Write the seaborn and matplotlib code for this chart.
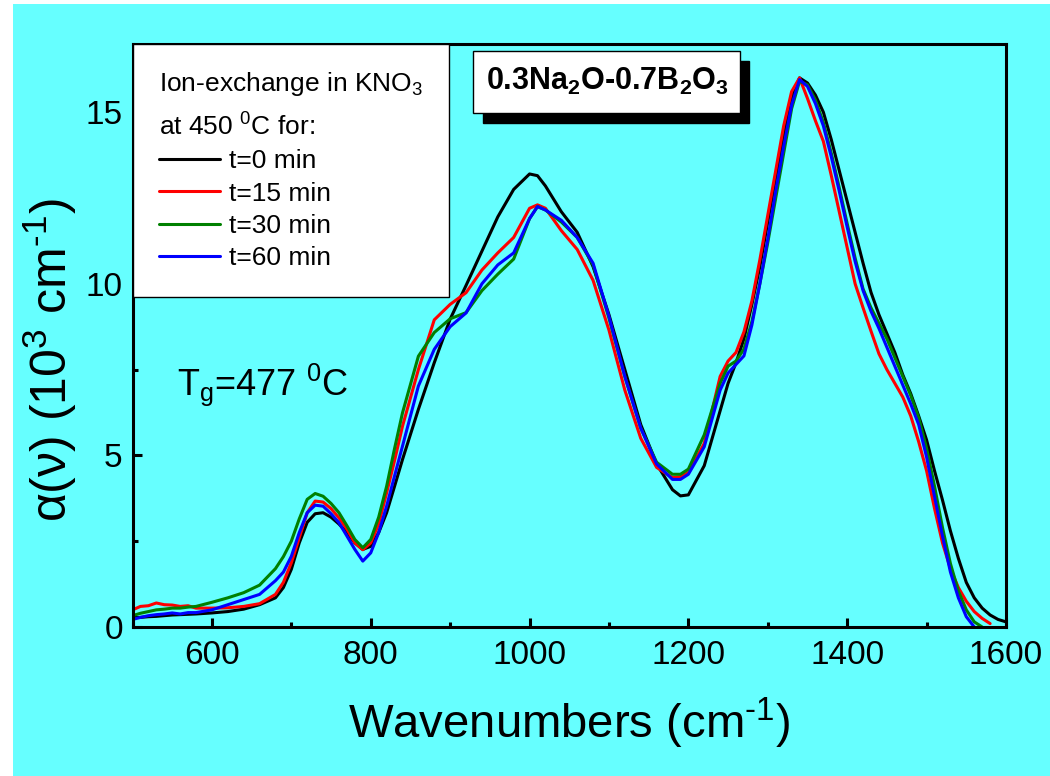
import numpy as np
import pandas as pd
import matplotlib
matplotlib.use('Agg')
import matplotlib.pyplot as plt
from matplotlib.patches import Rectangle
from matplotlib.ticker import MultipleLocator
import seaborn as sns

# --- 1. Datos ---
wavenumber = [500, 510, 520, 530, 540, 550, 560, 570, 580,
              600, 620, 640, 660, 680,
              690, 700, 710, 720, 730, 740, 750, 760, 770, 780, 790, 800, 810, 820, 830, 840,
              860, 880, 900, 920, 940, 960, 980, 1000,
              1010, 1020,
              1040, 1060, 1080, 1100, 1120, 1140, 1160, 1180,
              1190, 1200,
              1220, 1240,
              1250, 1260, 1270, 1280, 1290, 1300, 1310, 1320, 1330, 1340,
              1350, 1360, 1370, 1380, 1390, 1400, 1410, 1420, 1430, 1440,
              1450, 1460, 1470, 1480, 1490, 1500, 1510, 1520, 1530, 1540,
              1550, 1560, 1570, 1580, 1590, 1600]

alpha_t0 = [0.27, 0.28, 0.30, 0.31, 0.33, 0.35, 0.36, 0.37, 0.38,
            0.41, 0.45, 0.52, 0.65, 0.85,
            1.15, 1.68, 2.45, 3.05, 3.30, 3.33, 3.20, 3.00, 2.75, 2.45, 2.26, 2.35, 2.75, 3.33, 4.10, 4.88,
            6.34, 7.70, 8.97, 9.95, 10.95, 11.95, 12.75, 13.20,
            13.15, 12.85,
            12.10, 11.50, 10.50, 9.10, 7.50, 5.90, 4.75, 4.00,
            3.82, 3.85,
            4.70, 6.30,
            7.10, 7.70, 8.40, 9.40, 10.50, 11.80, 13.10, 14.30, 15.40, 16.00,
            15.85, 15.50, 15.00, 14.20, 13.30, 12.40, 11.50, 10.60, 9.75, 9.10,
            8.55, 8.00, 7.35, 6.80, 6.15, 5.45, 4.55, 3.70, 2.80, 2.00,
            1.30, 0.85, 0.55, 0.35, 0.22, 0.15]

alpha_t15 = [0.50, 0.60, 0.62, 0.70, 0.65, 0.64, 0.60, 0.62, 0.55,
             0.55, 0.56, 0.60, 0.68, 0.95,
             1.30, 1.87, 2.60, 3.33, 3.67, 3.64, 3.45, 3.18, 2.85, 2.45, 2.25, 2.45, 3.00, 3.91, 4.85, 5.85,
             7.50, 8.95, 9.40, 9.74, 10.40, 10.90, 11.35, 12.20,
             12.30, 12.20,
             11.55, 11.00, 10.10, 8.65, 6.90, 5.50, 4.65, 4.35,
             4.38, 4.50,
             5.35, 7.30,
             7.75, 8.00, 8.60, 9.50, 10.70, 12.00, 13.30, 14.60, 15.60, 16.00,
             15.40, 14.75, 14.15, 13.15, 12.10, 11.05, 10.00, 9.30, 8.62, 7.96,
             7.50, 7.10, 6.70, 6.15, 5.40, 4.55, 3.45, 2.45, 1.70, 1.15,
             0.75, 0.45, 0.25, 0.10, None, None]

alpha_t30 = [0.33, 0.40, 0.45, 0.50, 0.52, 0.55, 0.55, 0.58, 0.60,
             0.72, 0.85, 1.00, 1.22, 1.70,
             2.05, 2.50, 3.15, 3.72, 3.89, 3.81, 3.60, 3.33, 2.95, 2.55, 2.31, 2.55, 3.20, 4.10, 5.20, 6.24,
             7.89, 8.58, 8.98, 9.16, 9.80, 10.28, 10.72, 11.90,
             12.25, 12.15,
             11.80, 11.35, 10.55, 9.00, 7.30, 5.80, 4.80, 4.45,
             4.45, 4.60,
             5.60, 7.10,
             7.60, 7.75, 8.10, 8.90, 10.00, 11.20, 12.50, 13.80, 15.10, 15.90,
             15.80, 15.35, 14.70, 13.80, 12.80, 11.75, 10.75, 9.85, 9.30, 8.85,
             8.40, 7.85, 7.30, 6.75, 6.10, 5.20, 4.10, 2.90, 1.85, 1.05,
             0.50, 0.15, 0.00, None, None, None]

alpha_t60 = [0.22, 0.28, 0.33, 0.36, 0.38, 0.41, 0.38, 0.42, 0.42,
             0.50, 0.65, 0.80, 0.95, 1.35,
             1.60, 2.06, 2.75, 3.33, 3.55, 3.52, 3.30, 3.04, 2.65, 2.26, 1.92, 2.16, 2.75, 3.52, 4.40, 5.27,
             7.02, 8.09, 8.75, 9.15, 10.00, 10.55, 10.90, 11.90,
             12.25, 12.15,
             11.85, 11.35, 10.60, 9.05, 7.30, 5.80, 4.75, 4.30,
             4.30, 4.45,
             5.25, 6.90,
             7.40, 7.65, 7.90, 8.80, 10.00, 11.30, 12.70, 14.00, 15.20, 15.95,
             15.75, 15.25, 14.60, 13.70, 12.70, 11.65, 10.65, 9.80, 9.20, 8.70,
             8.15, 7.60, 7.05, 6.50, 5.90, 4.95, 3.80, 2.65, 1.60, 0.85,
             0.30, 0.00, None, None, None, None]

series_labels = ['t=0 min', 't=15 min', 't=30 min', 't=60 min']
series_colors = ['black', '#FF0000', '#008000', '#0000FF']
x_ticks = [600, 800, 1000, 1200, 1400, 1600]
y_ticks = [0, 5, 10, 15]

# Tabla larga para seaborn
df = pd.DataFrame({'wavenumber': wavenumber,
                   series_labels[0]: alpha_t0,
                   series_labels[1]: alpha_t15,
                   series_labels[2]: alpha_t30,
                   series_labels[3]: alpha_t60})
df_long = df.melt(id_vars='wavenumber', var_name='tiempo', value_name='alpha')
df_long['alpha'] = pd.to_numeric(df_long['alpha'])
df_long = df_long.dropna()

# --- 2. Estilo ---
sns.set_theme(style='ticks')
plt.rcParams['font.family'] = ['Liberation Sans', 'DejaVu Sans']
plt.rcParams['mathtext.fontset'] = 'custom'
plt.rcParams['mathtext.rm'] = 'Liberation Sans'
plt.rcParams['mathtext.it'] = 'Liberation Sans:italic'
plt.rcParams['mathtext.bf'] = 'Liberation Sans:bold'
for clave in ['text.color', 'axes.labelcolor', 'xtick.color', 'ytick.color',
              'xtick.labelcolor', 'ytick.labelcolor', 'axes.edgecolor']:
    plt.rcParams[clave] = 'black'

cyan = '#66FFFF'

fig = plt.figure(figsize=(10.5, 7.76), dpi=100, facecolor='white')
fig.patches.append(Rectangle((13 / 1050, 0), 1, 1 - 4 / 776, transform=fig.transFigure,
                             facecolor=cyan, edgecolor='none', zorder=-10))
ax = fig.add_axes([0.1262, 0.192, 0.8319, 0.7519])
ax.set_facecolor(cyan)

# --- 3. Curvas ---
sns.lineplot(data=df_long, x='wavenumber', y='alpha', hue='tiempo',
             hue_order=series_labels, palette=dict(zip(series_labels, series_colors)),
             linewidth=2.2, estimator=None, sort=False, legend=False, ax=ax)

ax.set_xlim(500, 1600)
ax.set_ylim(0, 17)
ax.set_xticks(x_ticks)
ax.set_yticks(y_ticks)
ax.xaxis.set_minor_locator(MultipleLocator(100))
ax.yaxis.set_minor_locator(MultipleLocator(2.5))
ax.tick_params(which='both', direction='in', width=2.2, labelsize=24,
               color='black', labelcolor='black')
ax.tick_params(which='major', length=6.5)
ax.tick_params(which='minor', length=3.5)
ax.tick_params(axis='x', pad=9)
ax.tick_params(axis='y', pad=7)
for s in ax.spines.values():
    s.set_linewidth(2.2)
    s.set_color('black')
    s.set_visible(True)

ax.set_xlabel('Wavenumbers (cm$^{\\text{-}1}$)', fontsize=34, va='center', color='black')
ax.xaxis.set_label_coords(0.5, -0.165)
ax.set_ylabel('α(ν) (10$^{3}$ cm$^{\\text{-}1}$)', fontsize=36, va='center', color='black')
ax.yaxis.set_label_coords(-0.0944, 0.458)

# Leyenda con título de dos líneas
handles = ax.get_lines()[:4]
leg = ax.legend(handles, series_labels,
                title='Ion-exchange in KNO$_{3}$\nat 450 $^{0}$C for:',
                loc='upper left', bbox_to_anchor=(0, 1), borderaxespad=0,
                fontsize=19, title_fontsize=19, alignment='left',
                frameon=True, fancybox=False, edgecolor='black', facecolor='white',
                framealpha=1, handlelength=2.3, handletextpad=0.35,
                labelspacing=0.32, borderpad=1.0)
leg.get_frame().set_linewidth(1.0)
leg.get_title().set_linespacing(1.7)
leg.get_title().set_color('black')
for t in leg.get_texts():
    t.set_color('black')

# Anotaciones
ax.text(556, 6.75, 'T$_{\\mathrm{g}}$=477 $^{0}$C', fontsize=26, va='baseline', ha='left',
        color='black')

ax.add_patch(Rectangle((0.4009, 0.8643), 0.3053, 0.1062, transform=ax.transAxes,
                       facecolor='black', edgecolor='black', zorder=6))
ax.add_patch(Rectangle((0.3902, 0.8814), 0.3053, 0.1063, transform=ax.transAxes,
                       facecolor='white', edgecolor='black', linewidth=1.0, zorder=7))
ax.text(0.5438, 0.9345, '0.3Na$_{\\mathbf{2}}$O-0.7B$_{\\mathbf{2}}$O$_{\\mathbf{3}}$',
        transform=ax.transAxes, ha='center', va='center', fontsize=22,
        fontweight='bold', color='black', zorder=8)

fig.savefig('out.png', dpi=100, facecolor=fig.get_facecolor())
print("Gráfico guardado en out.png")
